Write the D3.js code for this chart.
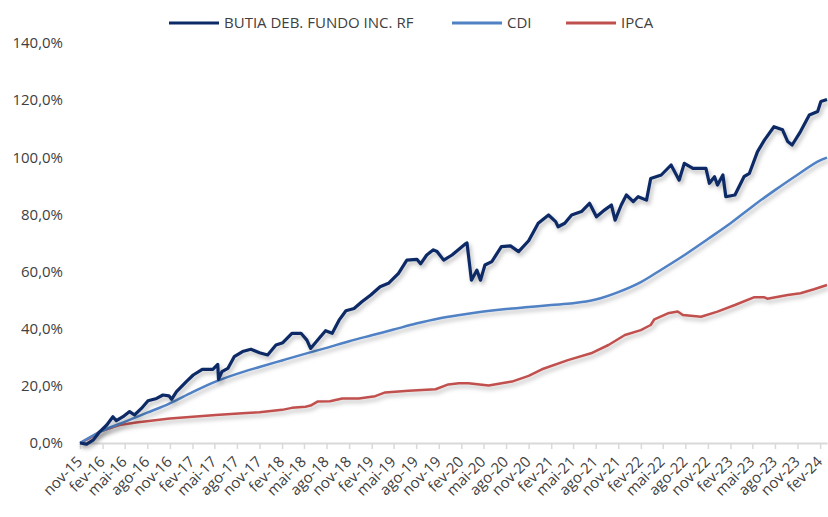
<!DOCTYPE html>
<html>
<head>
<meta charset="utf-8">
<script src="https://cdn.jsdelivr.net/npm/d3@7/dist/d3.min.js"></script>
<style>
	body { margin: 0; background: #fff; }
	svg text { font-family: "Open Sans", sans-serif; fill: #404040; }
</style>
</head>
<body>
<svg id="chart" width="828" height="517"></svg>
<script>
"use strict";

// series names
const seriesNames = ["BUTIA DEB. FUNDO INC. RF", "CDI", "IPCA"];

// fund (irregular dates)
const fundDates = [
	"2015-11-01", "2015-11-28", "2015-12-24", "2016-01-21", "2016-02-18", "2016-03-14", "2016-03-28", "2016-04-24",
	"2016-05-21", "2016-06-10", "2016-07-08", "2016-08-04", "2016-09-08", "2016-10-04", "2016-10-28", "2016-11-08",
	"2016-11-28", "2017-01-07", "2017-02-04", "2017-03-13", "2017-04-25", "2017-05-15", "2017-05-18", "2017-06-01",
	"2017-06-25", "2017-07-21", "2017-08-24", "2017-09-27", "2017-11-01", "2017-12-04", "2018-01-07", "2018-02-04",
	"2018-03-13", "2018-04-19", "2018-05-13", "2018-05-28", "2018-07-01", "2018-07-28", "2018-08-24", "2018-09-21",
	"2018-10-19", "2018-11-21", "2018-12-24", "2019-01-28", "2019-03-07", "2019-04-10", "2019-05-21", "2019-06-24",
	"2019-08-04", "2019-08-19", "2019-09-13", "2019-10-10", "2019-10-25", "2019-11-21", "2019-12-25", "2020-02-18",
	"2020-02-24", "2020-03-13", "2020-04-04", "2020-04-19", "2020-05-07", "2020-06-04", "2020-07-13", "2020-08-19",
	"2020-09-21", "2020-11-01", "2020-12-10", "2021-01-21", "2021-02-19", "2021-03-01", "2021-03-28", "2021-04-25",
	"2021-06-04", "2021-07-07", "2021-08-04", "2021-09-07", "2021-10-04", "2021-10-19", "2021-11-13", "2021-12-04",
	"2022-01-01", "2022-01-21", "2022-02-24", "2022-03-13", "2022-04-25", "2022-06-04", "2022-07-07", "2022-07-28",
	"2022-09-01", "2022-10-24", "2022-11-07", "2022-11-28", "2022-12-10", "2023-01-01", "2023-01-13", "2023-02-19",
	"2023-03-28", "2023-04-19", "2023-05-22", "2023-06-19", "2023-07-28", "2023-09-01", "2023-09-22", "2023-10-10",
	"2023-11-13", "2023-12-19", "2024-01-22", "2024-02-04", "2024-02-29"
];
const fundValues = [
	0.0, -0.4, 1.0, 4.0, 6.3, 9.2, 7.8, 9.2,
	11.0, 9.8, 12.1, 14.8, 15.6, 16.8, 16.5, 15.3,
	18.0, 21.5, 23.8, 25.8, 25.8, 27.5, 22.3, 25.0,
	26.1, 30.2, 32.0, 32.8, 31.6, 30.8, 34.3, 35.1,
	38.4, 38.4, 36.0, 33.1, 36.6, 39.3, 38.4, 43.0,
	46.3, 47.1, 49.5, 51.8, 54.7, 55.9, 59.4, 64.0,
	64.3, 62.7, 65.8, 67.6, 67.0, 64.0, 65.8, 69.7,
	70.0, 57.0, 60.5, 57.0, 62.3, 63.5, 68.7, 69.0,
	67.0, 70.8, 76.9, 79.8, 77.5, 75.7, 76.9, 79.8,
	81.0, 83.9, 79.2, 81.6, 83.3, 78.0, 83.3, 86.8,
	84.5, 86.2, 85.0, 92.6, 93.8, 97.3, 92.0, 97.9,
	96.1, 96.1, 90.9, 93.2, 90.3, 93.8, 86.2, 86.8,
	93.2, 94.4, 102.0, 106.0, 110.7, 109.6, 105.5, 104.3,
	109.0, 114.8, 116.0, 119.5, 120.2
];

// CDI, quarterly
const cdiDates = [
	"2015-11-01", "2016-02-01", "2016-05-01", "2016-08-01", "2016-11-01", "2017-02-01", "2017-05-01", "2017-08-01",
	"2017-11-01", "2018-02-01", "2018-05-01", "2018-08-01", "2018-11-01", "2019-02-01", "2019-05-01", "2019-08-01",
	"2019-11-01", "2020-02-01", "2020-05-01", "2020-08-01", "2020-11-01", "2021-02-01", "2021-05-01", "2021-08-01",
	"2021-11-01", "2022-02-01", "2022-05-01", "2022-08-01", "2022-11-01", "2023-02-01", "2023-05-01", "2023-08-01",
	"2023-11-01", "2024-02-01", "2024-02-29"
];
const cdiValues = [
	0.0, 4.3, 7.4, 10.6, 13.9, 17.8, 21.3, 24.2,
	26.6, 28.9, 31.1, 33.3, 35.6, 37.7, 39.7, 41.8,
	43.6, 44.9, 46.0, 46.9, 47.6, 48.3, 48.9, 50.2,
	52.8, 56.3, 61.0, 66.0, 71.4, 76.9, 82.8, 88.5,
	93.9, 98.9, 99.9
];

// IPCA (irregular dates)
const ipcaDates = [
	"2015-11-01", "2015-12-15", "2016-01-21", "2016-04-10", "2016-06-17", "2016-11-01", "2017-05-07", "2017-08-24",
	"2017-11-01", "2018-02-01", "2018-03-13", "2018-05-07", "2018-05-28", "2018-06-25", "2018-08-15", "2018-10-04",
	"2018-12-10", "2019-02-15", "2019-03-28", "2019-07-01", "2019-10-19", "2019-12-10", "2020-01-22", "2020-03-01",
	"2020-05-22", "2020-08-25", "2020-11-01", "2020-12-25", "2021-04-10", "2021-07-13", "2021-09-22", "2021-11-28",
	"2022-02-01", "2022-03-13", "2022-03-28", "2022-05-22", "2022-07-01", "2022-07-22", "2022-10-04", "2022-12-10",
	"2023-02-19", "2023-05-07", "2023-06-19", "2023-07-01", "2023-09-22", "2023-11-13", "2024-01-07", "2024-02-29"
];
const ipcaValues = [
	0.0, 1.9, 4.0, 6.3, 7.2, 8.6, 9.8, 10.4,
	10.8, 11.6, 12.3, 12.7, 13.1, 14.5, 14.6, 15.6,
	15.6, 16.4, 17.7, 18.3, 18.8, 20.5, 20.9, 20.9,
	20.1, 21.5, 23.5, 25.8, 29.0, 31.4, 34.3, 37.8,
	39.5, 41.3, 43.3, 45.4, 46.0, 44.8, 44.2, 46.0,
	48.3, 51.0, 51.0, 50.5, 51.8, 52.4, 53.8, 55.3
];

// y ticks
const yTicks = [0, 20, 40, 60, 80, 100, 120, 140];

const colors = ["#0b2a66", "#4f81c4", "#c0504d"];

const svg = d3.select("#chart");
const margin = { left: 80, right: 1, top: 43, bottom: 74 };
const W = 828, H = 517;

const parse = d3.utcParse("%Y-%m-%d");
const x = d3.scaleUtc()
	.domain([parse("2015-11-01"), parse("2024-02-29")])
	.range([margin.left, W - margin.right]);
const y = d3.scaleLinear()
	.domain([0, 140])
	.range([H - margin.bottom, margin.top]);

const fmtPct = (d) => d3.format(".1f")(d).replace(".", ",") + "%";
const months = ["jan", "fev", "mar", "abr", "mai", "jun", "jul", "ago", "set", "out", "nov", "dez"];
const fmtMonth = (d) => months[d.getUTCMonth()] + "-" + d3.utcFormat("%y")(d);

// shadow under the lines
const defs = svg.append("defs");
defs.append("filter")
	.attr("id", "shadow")
	.attr("x", "-5%").attr("y", "-5%")
	.attr("width", "110%").attr("height", "120%")
	.append("feDropShadow")
	.attr("dx", 2).attr("dy", 3)
	.attr("stdDeviation", 2)
	.attr("flood-color", "#000")
	.attr("flood-opacity", 0.28);

// y axis labels only
const yAxis = svg.append("g")
	.attr("transform", `translate(${margin.left},0)`)
	.call(d3.axisLeft(y).tickValues(yTicks).tickFormat(fmtPct).tickSize(0).tickPadding(17));
yAxis.select(".domain").remove();
yAxis.selectAll("text")
	.attr("font-size", 15)
	.attr("font-family", "Open Sans, sans-serif")
	.attr("fill", "#404040");

// x axis, every 3 months from nov-15
const xTicks = d3.utcMonth.range(parse("2015-11-01"), parse("2024-03-01"), 3);
const xAxis = svg.append("g")
	.attr("transform", `translate(0,${y(0)})`)
	.call(d3.axisBottom(x).tickValues(xTicks).tickFormat(fmtMonth).tickSize(6).tickSizeOuter(0));
xAxis.select(".domain").attr("stroke", "#d9d9d9").attr("stroke-width", 2);
xAxis.selectAll(".tick line").attr("stroke", "#d9d9d9").attr("stroke-width", 1.5);
xAxis.selectAll("text")
	.attr("font-size", 15)
	.attr("font-family", "Open Sans, sans-serif")
	.attr("fill", "#404040")
	.attr("text-anchor", "end")
	.attr("y", 0)
	.attr("dy", "0.35em")
	.attr("transform", "translate(-1,16) rotate(-45)");

// lines
const series = [
	{ dates: fundDates, values: fundValues, width: 3.2 },
	{ dates: cdiDates, values: cdiValues, width: 2.5, curve: d3.curveMonotoneX },
	{ dates: ipcaDates, values: ipcaValues, width: 2.5 }
];

const line = (curve) => d3.line()
	.x((d) => x(d[0]))
	.y((d) => y(d[1]))
	.curve(curve || d3.curveLinear);

// draw IPCA first, fund on top
[2, 1, 0].forEach((i) => {
	const s = series[i];
	const pts = s.dates.map((d, k) => [parse(d), s.values[k]]);
	svg.append("path")
		.datum(pts)
		.attr("fill", "none")
		.attr("stroke", colors[i])
		.attr("stroke-width", s.width)
		.attr("stroke-linejoin", "round")
		.attr("filter", "url(#shadow)")
		.attr("d", line(s.curve));
});

// legend
const legendX = [169, 452, 566];
const legend = svg.append("g");
seriesNames.forEach((name, i) => {
	legend.append("line")
		.attr("x1", legendX[i]).attr("x2", legendX[i] + 50)
		.attr("y1", 23).attr("y2", 23)
		.attr("stroke", colors[i])
		.attr("stroke-width", 3);
	legend.append("text")
		.attr("x", legendX[i] + 55)
		.attr("y", 23)
		.attr("dy", "0.35em")
		.attr("font-size", 15)
		.text(name);
});
</script>
</body>
</html>
